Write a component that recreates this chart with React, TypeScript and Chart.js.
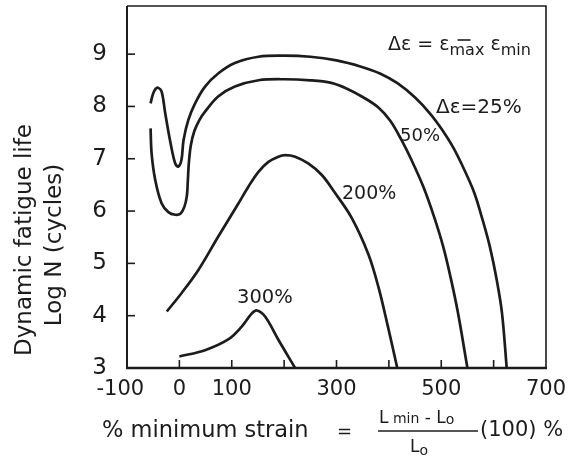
import React, { useEffect, useRef } from "react";
import { Chart, registerables } from "chart.js";

Chart.register(...registerables);

const FONT = '"DejaVu Sans", "Liberation Sans", sans-serif';
const INK = "#1c1c1c";

// axis ranges and ticks
const xMin = -100;
const xMax = 700;
const yMin = 3;
const yMax = 9.92;
const xTickValues = [-100, 0, 100, 200, 300, 400, 500, 600, 700];
const xLabeledTicks = [-100, 0, 100, 300, 500, 700];
const yTickValues = [3, 4, 5, 6, 7, 8, 9];

// Δε = 25 %
const strain25X = [-55, -50, -45, -41, -34, -27, -18, -8, -2, 4, 8, 17, 30, 49, 74, 106, 151, 200, 250, 300, 347, 383, 417, 450, 479, 502, 522, 544, 563, 579, 593, 606, 616, 625];
const life25Y = [8.06, 8.25, 8.34, 8.36, 8.29, 7.87, 7.36, 6.91, 6.85, 6.98, 7.36, 7.74, 8.06, 8.38, 8.63, 8.83, 8.95, 8.97, 8.95, 8.88, 8.76, 8.63, 8.44, 8.17, 7.86, 7.55, 7.23, 6.79, 6.35, 5.83, 5.31, 4.68, 4.05, 3.0];

// Δε = 50 %
const strain50X = [-55, -53, -46, -34, -21, -8, 2, 9.5, 14.3, 16.2, 18.1, 21.9, 28.6, 38.2, 49, 74, 106, 151, 200, 250, 290, 320, 350, 380, 403, 424, 443, 466, 487, 504, 519, 532, 550];
const life50Y = [7.58, 7.1, 6.59, 6.15, 5.98, 5.93, 5.95, 6.08, 6.29, 6.59, 6.92, 7.26, 7.53, 7.74, 7.9, 8.19, 8.38, 8.5, 8.52, 8.5, 8.45, 8.34, 8.18, 7.98, 7.72, 7.36, 6.98, 6.46, 5.87, 5.31, 4.68, 4.05, 3.0];

// Δε = 200 %
const strain200X = [-24, 4, 36, 74, 113, 132, 151, 170, 189, 202, 221, 246, 272, 297, 329, 361, 380, 398, 416];
const life200Y = [4.08, 4.43, 4.87, 5.51, 6.15, 6.47, 6.75, 6.94, 7.04, 7.07, 7.04, 6.91, 6.69, 6.35, 5.87, 5.17, 4.55, 3.8, 3.0];

// Δε = 300 %
const strain300X = [0, 49, 94, 119, 138, 148, 164, 189, 221];
const life300Y = [3.22, 3.34, 3.55, 3.79, 4.04, 4.1, 3.98, 3.54, 3.0];

const series = [
  { name: "25%", xs: strain25X, ys: life25Y },
  { name: "50%", xs: strain50X, ys: life50Y },
  { name: "200%", xs: strain200X, ys: life200Y },
  { name: "300%", xs: strain300X, ys: life300Y },
];

type Run = { t: string; size: number; dy?: number };

function drawRuns(ctx: CanvasRenderingContext2D, x: number, y: number, runs: Run[]) {
  let cx = x;
  const pos: number[] = [];
  for (const r of runs) {
    ctx.font = `${r.size}px ${FONT}`;
    ctx.textAlign = "left";
    ctx.textBaseline = "alphabetic";
    pos.push(cx);
    ctx.fillText(r.t, cx, y + (r.dy || 0));
    cx += ctx.measureText(r.t).width;
  }
  pos.push(cx);
  return pos;
}

const decorPlugin = {
  id: "decor",
  afterDraw(chart: any) {
    const ctx: CanvasRenderingContext2D = chart.ctx;
    const { left, right, top, bottom } = chart.chartArea;
    const xs = chart.scales.x;
    const ys = chart.scales.y;
    ctx.save();
    ctx.strokeStyle = INK;
    ctx.fillStyle = INK;
    ctx.lineCap = "butt";

    // frame
    ctx.lineWidth = 1.6;
    ctx.beginPath();
    ctx.moveTo(left, top);
    ctx.lineTo(right, top);
    ctx.lineTo(right, bottom);
    ctx.stroke();
    ctx.lineWidth = 2;
    ctx.beginPath();
    ctx.moveTo(left, top);
    ctx.lineTo(left, bottom);
    ctx.stroke();
    ctx.lineWidth = 2.4;
    ctx.beginPath();
    ctx.moveTo(left - 1, bottom);
    ctx.lineTo(right + 1, bottom);
    ctx.stroke();

    // inward ticks
    ctx.lineWidth = 1.6;
    for (const v of xTickValues) {
      if (v <= xMin || v >= xMax) continue;
      const px = xs.getPixelForValue(v);
      ctx.beginPath();
      ctx.moveTo(px, bottom);
      ctx.lineTo(px, bottom - 8);
      ctx.stroke();
    }
    for (const v of yTickValues) {
      if (v <= yMin) continue;
      const py = ys.getPixelForValue(v);
      ctx.beginPath();
      ctx.moveTo(left, py);
      ctx.lineTo(left + 8, py);
      ctx.stroke();
    }

    // y axis title (two lines)
    ctx.font = `23px ${FONT}`;
    ctx.textAlign = "center";
    ctx.textBaseline = "middle";
    ctx.save();
    ctx.translate(25, 240);
    ctx.rotate(-Math.PI / 2);
    ctx.fillText("Dynamic fatigue life", 0, 0);
    ctx.restore();
    ctx.save();
    ctx.translate(55, 245);
    ctx.rotate(-Math.PI / 2);
    ctx.fillText("Log N (cycles)", 0, 0);
    ctx.restore();

    // x axis title
    ctx.font = `22.5px ${FONT}`;
    ctx.textAlign = "left";
    ctx.textBaseline = "middle";
    ctx.fillText("% minimum strain", 102, 431);
    ctx.font = `18px ${FONT}`;
    ctx.fillText("=", 337, 432);
    drawRuns(ctx, 379, 423, [
      { t: "L", size: 17 },
      { t: " min", size: 14 },
      { t: " - L", size: 17 },
      { t: "o", size: 14, dy: 1 },
    ]);
    ctx.lineWidth = 1.3;
    ctx.beginPath();
    ctx.moveTo(378, 431);
    ctx.lineTo(478, 431);
    ctx.stroke();
    drawRuns(ctx, 410, 452, [
      { t: "L", size: 17 },
      { t: "o", size: 14, dy: 3 },
    ]);
    ctx.font = `21px ${FONT}`;
    ctx.textBaseline = "middle";
    ctx.fillText("(100) %", 480, 431);

    // formula at top right
    const p = drawRuns(ctx, 388, 50, [
      { t: "Δε = ε", size: 19 },
      { t: "max", size: 16, dy: 5 },
      { t: " ε", size: 19 },
      { t: "min", size: 16, dy: 5 },
    ]);
    ctx.lineWidth = 1.6;
    ctx.beginPath();
    ctx.moveTo(p[1] + 8, 40);
    ctx.lineTo(p[1] + 21, 40);
    ctx.stroke();

    // curve labels
    drawRuns(ctx, 436, 113, [{ t: "Δε=25%", size: 20 }]);
    drawRuns(ctx, 400, 141, [{ t: "50%", size: 18 }]);
    drawRuns(ctx, 342, 199, [{ t: "200%", size: 19 }]);
    drawRuns(ctx, 237, 303, [{ t: "300%", size: 19.5 }]);

    ctx.restore();
  },
};

const bgPlugin = {
  id: "bg",
  beforeDraw(chart: any) {
    const ctx = chart.ctx;
    ctx.save();
    ctx.fillStyle = "#ffffff";
    ctx.fillRect(0, 0, chart.width, chart.height);
    ctx.restore();
  },
};

export default function App() {
  const ref = useRef<HTMLCanvasElement | null>(null);

  useEffect(() => {
    if (!ref.current) return;
    const chart = new Chart(ref.current, {
      type: "scatter",
      data: {
        datasets: series.map((s) => ({
          label: s.name,
          data: s.xs.map((x, i) => ({ x, y: s.ys[i] })),
          showLine: true,
          borderColor: INK,
          backgroundColor: INK,
          borderWidth: 2.7,
          pointRadius: 0,
          tension: 0.35,
          fill: false,
        })),
      },
      options: {
        animation: false,
        responsive: false,
        devicePixelRatio: 1,
        layout: { padding: { left: 0, right: 28, top: 6, bottom: 0 } },
        plugins: {
          legend: { display: false },
          tooltip: { enabled: false },
          title: { display: false },
        },
        scales: {
          x: {
            type: "linear",
            min: xMin,
            max: xMax,
            afterBuildTicks: (s: any) => {
              s.ticks = xTickValues.map((v) => ({ value: v }));
            },
            afterFit: (s: any) => {
              s.height = 91;
              s.paddingLeft = 0;
              s.paddingRight = 0;
            },
            grid: { display: false, drawTicks: false },
            border: { display: false },
            ticks: {
              autoSkip: false,
              maxRotation: 0,
              padding: 9,
              color: INK,
              font: { family: FONT, size: 21 },
              callback: (v: any) => {
                const n = Number(v);
                if (!xLabeledTicks.includes(n)) return "";
                return n === xMin ? String(n) + "  " : String(n);
              },
            },
          },
          y: {
            type: "linear",
            min: yMin,
            max: yMax,
            afterBuildTicks: (s: any) => {
              s.ticks = yTickValues.map((v) => ({ value: v }));
            },
            afterFit: (s: any) => {
              s.width = 127;
              s.paddingTop = 0;
              s.paddingBottom = 0;
            },
            grid: { display: false, drawTicks: false },
            border: { display: false },
            ticks: {
              autoSkip: false,
              padding: 20,
              color: INK,
              font: { family: FONT, size: 23 },
              callback: (v: any) => String(v),
            },
          },
        },
      },
      plugins: [bgPlugin, decorPlugin],
    });
    return () => chart.destroy();
  }, []);

  return (
    <div style={{ position: "absolute", left: 0, top: 0, width: 574, height: 459, background: "#fff" }}>
      <canvas ref={ref} width={574} height={459} style={{ display: "block" }} />
    </div>
  );
}
